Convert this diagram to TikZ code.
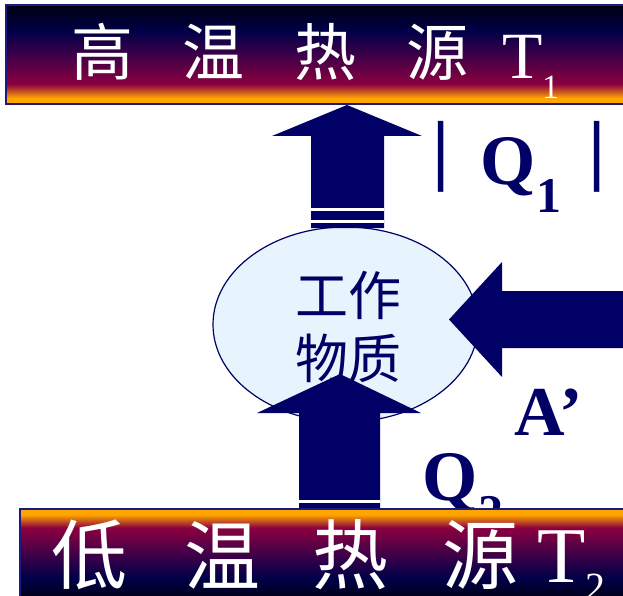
\documentclass[tikz,border=0pt]{standalone}
\usepackage{fontspec}
\usetikzlibrary{shapes.geometric}
\setmainfont{Liberation Serif}
\newfontfamily\cjk{Noto Sans CJK SC}
\definecolor{navyA}{HTML}{000066}
\definecolor{barline}{HTML}{1A1A80}
\definecolor{hotorange}{HTML}{FFA500}
\definecolor{hotred}{HTML}{8C0040}
\definecolor{hotpurple}{HTML}{3C0048}
\definecolor{hotnavy}{HTML}{000048}
\definecolor{hotblack}{HTML}{000010}
\definecolor{ellfill}{HTML}{E8F4FD}
\pgfdeclareverticalshading{hotbar}{100bp}{color(0bp)=(hotorange); color(25bp)=(hotorange); color(28bp)=(hotorange); color(35bp)=(hotred); color(50bp)=(hotpurple); color(62bp)=(hotnavy); color(75bp)=(hotblack); color(100bp)=(hotblack)}
\tikzset{
  blockarrow/.style={fill=navyA, draw=none},
  stripe/.style={draw=white, line width=2.5pt},
  barbox/.style={shading=hotbar, draw=barline, line width=1.6pt},
  hanzitop/.style={text=white, inner sep=0pt, font=\cjk\fontsize{62}{70}\selectfont},
  hanzibot/.style={text=white, inner sep=0pt, font=\cjk\fontsize{76}{86}\selectfont},
  lbl/.style={text=navyA, inner sep=0pt},
}
\begin{document}
\begin{tikzpicture}[x=1pt,y=-1pt]
\useasboundingbox (0,0) rectangle (623,596);
\clip (0,0) rectangle (623,596);

% working substance
\node[ellipse, draw=navyA, line width=1.2pt, fill=ellfill, minimum width=265pt, minimum height=195pt, inner sep=0pt] (ws) at (345.5,324.5) {};
\node[lbl, align=center, font=\cjk\fontsize{53}{63}\selectfont] (wstext) at (348,326.5) {工作\\物质};

% arrow from working substance up to hot reservoir
\fill[blockarrow] (311,228) -- (311,136) -- (272,136) -- (347,105) -- (422,136) -- (384,136) -- (384,228) -- cycle;
\draw[stripe] (311,209.7) -- (384,209.7);
\draw[stripe] (311,221.3) -- (384,221.3);

% arrow from cold reservoir up into working substance
\fill[blockarrow] (299,512) -- (299,413) -- (257,413) -- (340,374) -- (421,413) -- (380,413) -- (380,512) -- cycle;
\draw[stripe] (299,501.3) -- (380,501.3);

% work arrow from the right
\fill[blockarrow] (640,291) -- (502,291) -- (502,262) -- (449,319.5) -- (502,377) -- (502,348) -- (640,348) -- cycle;

% labels
\node[lbl, font=\bfseries\fontsize{78}{80}\selectfont] (barL) at (441,157) {|};
\node[lbl, font=\bfseries\fontsize{78}{80}\selectfont] (barR) at (597.5,157) {|};
\node[lbl, anchor=base west, font=\bfseries\fontsize{71}{80}\selectfont] (q1) at (480,185) {Q};
\node[lbl, anchor=base west, font=\bfseries\fontsize{50}{60}\selectfont] (q1s) at (536.5,212) {1};
\node[lbl, anchor=base west, font=\bfseries\fontsize{70}{80}\selectfont] (aw) at (514,435) {A’};
\node[lbl, anchor=base west, font=\bfseries\fontsize{71}{80}\selectfont] (q2) at (422,500) {Q};
\node[lbl, anchor=base west, font=\bfseries\fontsize{50}{60}\selectfont] (q2s) at (478,529) {2};

% hot reservoir
\shade[barbox] (6,5) rectangle (640,104);
\node[hanzitop] (h1) at (102,52) {高};
\node[hanzitop] (h2) at (213,52) {温};
\node[hanzitop] (h3) at (325,52) {热};
\node[hanzitop] (h4) at (437,52) {源};
\node[text=white, inner sep=0pt, anchor=base west, font=\fontsize{66}{70}\selectfont] (hT) at (502,79) {T};
\node[text=white, inner sep=0pt, anchor=base west, font=\fontsize{34}{40}\selectfont] (hTs) at (542,99) {1};

% cold reservoir
\shade[barbox, shading angle=180] (20,509) rectangle (640,602);
\node[hanzibot] (c1) at (89,555) {低};
\node[hanzibot] (c2) at (222,555) {温};
\node[hanzibot] (c3) at (350,555) {热};
\node[hanzibot] (c4) at (480,555) {源};
\node[text=white, inner sep=0pt, anchor=base west, font=\fontsize{79}{84}\selectfont] (cT) at (537,582) {T};
\node[text=white, inner sep=0pt, anchor=base west, font=\fontsize{40}{48}\selectfont] (cTs) at (585,600) {2};
\end{tikzpicture}
\end{document}
